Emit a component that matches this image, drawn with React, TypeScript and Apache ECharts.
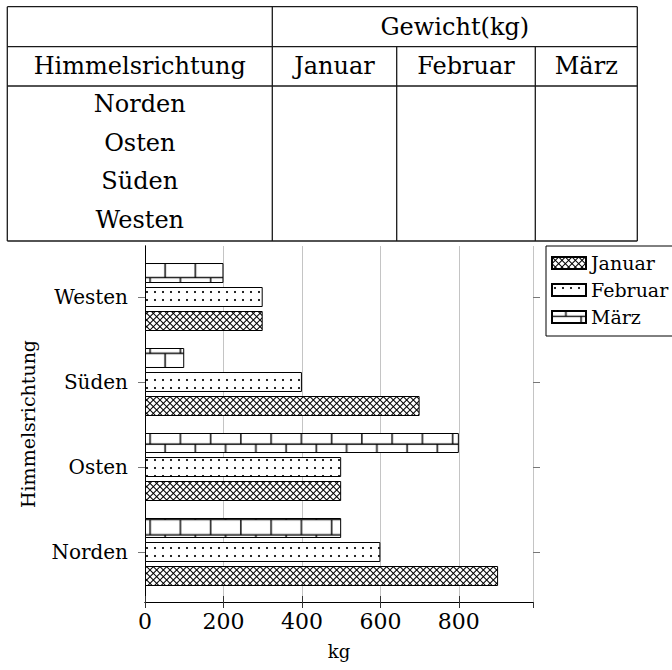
import React, { useEffect, useRef } from "react";
import * as echarts from "echarts";

const categories = ["Norden", "Osten", "Süden", "Westen"];
const months = ["Januar", "Februar", "März"];
const januar = [900, 500, 700, 300];
const februar = [600, 500, 400, 300];
const maerz = [500, 800, 100, 200];
const xTicks = [0, 200, 400, 600, 800];
const tableTitle = "Gewicht(kg)";
const rowHeader = "Himmelsrichtung";
const xName = "kg";

const FONT = "'DejaVu Serif', 'Liberation Serif', serif";
const OS = 4;

function makeCanvas(w: number, h: number): [HTMLCanvasElement, CanvasRenderingContext2D] {
  const c = document.createElement("canvas");
  c.width = Math.round(w * OS);
  c.height = Math.round(h * OS);
  const ctx = c.getContext("2d") as CanvasRenderingContext2D;
  ctx.scale(OS, OS);
  ctx.fillStyle = "#fff";
  ctx.fillRect(0, 0, w, h);
  return [c, ctx];
}

function crosshatch() {
  const P = 20;
  const p = P / 3;
  const [c, ctx] = makeCanvas(P, P);
  ctx.strokeStyle = "#000";
  ctx.lineWidth = 1;
  ctx.beginPath();
  for (let k = -4; k <= 7; k++) {
    ctx.moveTo(k * p, 0);
    ctx.lineTo(k * p + P, P);
    ctx.moveTo(k * p, P);
    ctx.lineTo(k * p + P, 0);
  }
  ctx.stroke();
  return { image: c, repeat: "repeat", imageWidth: P, imageHeight: P };
}

function dots() {
  const P = 8;
  const [c, ctx] = makeCanvas(P, P);
  ctx.fillStyle = "#000";
  ctx.beginPath();
  ctx.arc(3, 4, 1.05, 0, Math.PI * 2);
  ctx.fill();
  return { image: c, repeat: "repeat", imageWidth: P, imageHeight: P };
}

function bricks() {
  const P = 30.25;
  const h = P / 2;
  const y0 = 5.45;
  const xa = 29;
  const xb = 13.875;
  const [c, ctx] = makeCanvas(P, P);
  ctx.strokeStyle = "#000";
  ctx.lineWidth = 1.4;
  ctx.beginPath();
  for (const dy of [-P, 0, P]) {
    ctx.moveTo(-1, y0 + dy);
    ctx.lineTo(P + 1, y0 + dy);
    ctx.moveTo(-1, y0 + h + dy);
    ctx.lineTo(P + 1, y0 + h + dy);
    for (const dx of [-P, 0, P]) {
      ctx.moveTo(xa + dx, y0 + dy);
      ctx.lineTo(xa + dx, y0 + h + dy);
      ctx.moveTo(xb + dx, y0 + h + dy);
      ctx.lineTo(xb + dx, y0 + 2 * h + dy);
    }
  }
  ctx.stroke();
  return { image: c, repeat: "repeat", imageWidth: P, imageHeight: P };
}

function buildTable() {
  const xs = [7.3, 272.3, 396.7, 535.3, 637.3];
  const ys = [6.7, 46.7, 86, 241];
  const ls = { stroke: "#1a1a1a", lineWidth: 1.3 };
  const els: any[] = [];
  const line = (x1: number, y1: number, x2: number, y2: number) =>
    els.push({ type: "line", silent: true, shape: { x1, y1, x2, y2 }, style: ls });
  line(xs[0], ys[0], xs[4], ys[0]);
  line(xs[0], ys[1], xs[4], ys[1]);
  line(xs[0], ys[2], xs[4], ys[2]);
  line(xs[0], ys[3], xs[4], ys[3]);
  line(xs[0], ys[0], xs[0], ys[3]);
  line(xs[1], ys[0], xs[1], ys[3]);
  line(xs[2], ys[1], xs[2], ys[3]);
  line(xs[3], ys[1], xs[3], ys[3]);
  line(xs[4], ys[0], xs[4], ys[3]);
  const text = (t: string, x: number, y: number) =>
    els.push({
      type: "text",
      silent: true,
      x,
      y,
      style: {
        text: t,
        fill: "#000",
        fontFamily: FONT,
        fontSize: 24,
        fontWeight: "normal",
        fontStyle: "normal",
        align: "center",
        verticalAlign: "middle",
        textAlign: "center",
        textVerticalAlign: "middle",
      },
    });
  text(tableTitle, (xs[1] + xs[4]) / 2, (ys[0] + ys[1]) / 2);
  text(rowHeader, (xs[0] + xs[1]) / 2, (ys[1] + ys[2]) / 2);
  months.forEach((m, i) => text(m, (xs[i + 1] + xs[i + 2]) / 2, (ys[1] + ys[2]) / 2));
  categories.forEach((c, i) => text(c, (xs[0] + xs[1]) / 2, 104 + i * 38.5));
  return els;
}

export default function App() {
  const ref = useRef<HTMLDivElement>(null);
  useEffect(() => {
    if (!ref.current) return;
    const chart = echarts.init(ref.current, undefined, { renderer: "svg" });
    const patterns = [crosshatch(), dots(), bricks()];
    const values = [januar, februar, maerz];
    const frameLine = { show: true, lineStyle: { color: "#000", width: 1 } };
    const series = months.map((m, i) => ({
      name: m,
      type: "bar",
      xAxisIndex: 2,
      yAxisIndex: 2,
      data: values[i],
      barWidth: 20,
      barGap: "20%",
      itemStyle: { color: patterns[i], borderColor: "#000", borderWidth: 1 },
    }));
    const option: any = {
      animation: false,
      backgroundColor: "#fff",
      textStyle: { fontFamily: FONT },
      graphic: buildTable(),
      legend: {
        left: 546,
        top: 246,
        orient: "vertical",
        data: months,
        icon: "rect",
        itemWidth: 34,
        itemHeight: 12,
        itemGap: 7,
        padding: [7, 10, 9, 5],
        borderColor: "#000",
        borderWidth: 1,
        borderRadius: 0,
        selectedMode: false,
        textStyle: { fontFamily: FONT, fontSize: 19, color: "#000", lineHeight: 20 },
      },
      grid: [
        { left: 145, top: 246, width: 388, height: 356 },
        { left: 145, top: 254.5, width: 388, height: 340 },
      ],
      xAxis: [
        {
          gridIndex: 0,
          type: "value",
          min: xTicks[0],
          max: 989,
          interval: xTicks[1] - xTicks[0],
          position: "bottom",
          axisLine: frameLine,
          axisTick: { show: true, inside: true, length: 6, lineStyle: { color: "#333" } },
          axisLabel: { fontFamily: FONT, fontSize: 22, color: "#000", margin: 8, showMaxLabel: false },
          splitLine: { show: true, lineStyle: { color: "#c4c4c4", width: 1 } },
          name: xName,
          nameLocation: "middle",
          nameGap: 40,
          nameTextStyle: { fontFamily: FONT, fontSize: 18, color: "#000" },
        },
        {
          gridIndex: 0,
          type: "value",
          min: xTicks[0],
          max: 989,
          interval: xTicks[1] - xTicks[0],
          position: "top",
          axisLine: frameLine,
          axisTick: { show: true, inside: true, length: 6, lineStyle: { color: "#333" } },
          axisLabel: { show: false },
          splitLine: { show: false },
        },
        { gridIndex: 1, type: "value", min: xTicks[0], max: 989, show: false },
      ],
      yAxis: [
        {
          gridIndex: 0,
          type: "value",
          min: 0,
          max: 1,
          position: "left",
          axisLine: frameLine,
          axisTick: { show: false },
          axisLabel: { show: false },
          splitLine: { show: false },
          name: rowHeader,
          nameLocation: "middle",
          nameRotate: 90,
          nameGap: 108,
          nameTextStyle: { fontFamily: FONT, fontSize: 19, color: "#000" },
        },
        {
          gridIndex: 0,
          type: "value",
          min: 0,
          max: 1,
          position: "right",
          axisLine: frameLine,
          axisTick: { show: false },
          axisLabel: { show: false },
          splitLine: { show: false },
        },
        {
          gridIndex: 1,
          type: "category",
          data: categories,
          position: "left",
          axisLine: { show: false },
          axisTick: { show: true, alignWithLabel: true, length: 7, lineStyle: { color: "#777" } },
          axisLabel: { fontFamily: FONT, fontSize: 20, color: "#000", margin: 17 },
          splitLine: { show: false },
        },
        {
          gridIndex: 1,
          type: "category",
          data: categories,
          position: "right",
          axisLine: { show: false },
          axisTick: { show: true, alignWithLabel: true, length: 7, lineStyle: { color: "#777" } },
          axisLabel: { show: false },
          splitLine: { show: false },
        },
      ],
      // reversed so that Januar sits at the bottom of each group, März on top
      series: series.slice().reverse(),
    };
    chart.setOption(option);
    return () => chart.dispose();
  }, []);
  return (
    <div
      ref={ref}
      style={{ position: "absolute", left: 0, top: 0, width: 672, height: 670, background: "#fff" }}
    />
  );
}
